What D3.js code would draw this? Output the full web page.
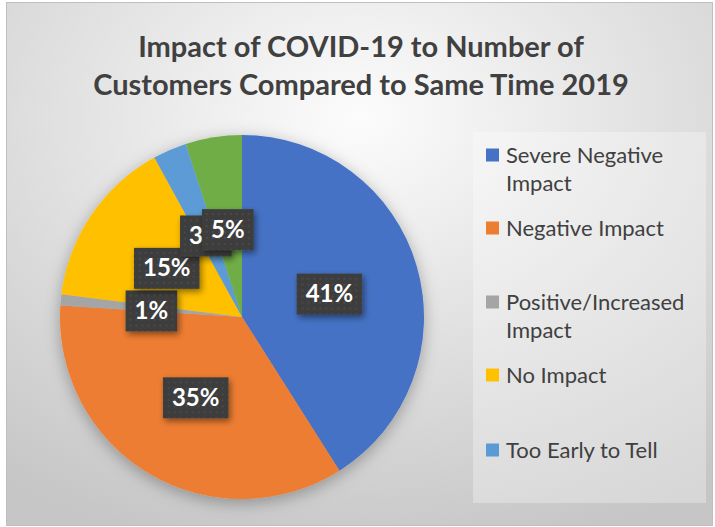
<!DOCTYPE html>
<html>
<head>
<meta charset="utf-8">
<script src="https://cdn.jsdelivr.net/npm/d3@7"></script>
<style>
  body { margin: 0; background: #fff; }
  svg { display: block; }
</style>
</head>
<body>
<script>
// chart data
var categories = ["Severe Negative Impact", "Negative Impact", "Positive/Increased Impact", "No Impact", "Too Early to Tell", "Other"];
var values = [41, 35, 1, 15, 3, 5];
var colors = ["#4472C4", "#ED7D31", "#A5A5A5", "#FFC000", "#5B9BD5", "#70AD47"];
var legendLines = [["Severe Negative", "Impact"], ["Negative Impact"], ["Positive/Increased", "Impact"], ["No Impact"], ["Too Early to Tell"]];
var titleLines = ["Impact of COVID-19 to Number of", "Customers Compared to Same Time 2019"];

var width = 715, height = 527;
var font = "Lato, 'Open Sans', sans-serif";

var svg = d3.select("body").append("svg")
  .attr("width", width)
  .attr("height", height);

var defs = svg.append("defs");

var bg = defs.append("radialGradient")
  .attr("id", "bgGrad")
  .attr("cx", "50%").attr("cy", "22%").attr("r", "85%");
bg.append("stop").attr("offset", "0%").attr("stop-color", "#fcfcfc");
bg.append("stop").attr("offset", "100%").attr("stop-color", "#c6c6c6");

var shadow = defs.append("filter").attr("id", "pieShadow")
  .attr("x", "-20%").attr("y", "-20%").attr("width", "140%").attr("height", "140%");
shadow.append("feDropShadow")
  .attr("dx", 0).attr("dy", 4).attr("stdDeviation", 8)
  .attr("flood-color", "#000").attr("flood-opacity", 0.3);

var boxShadow = defs.append("filter").attr("id", "boxShadow")
  .attr("x", "-30%").attr("y", "-30%").attr("width", "160%").attr("height", "160%");
boxShadow.append("feDropShadow")
  .attr("dx", 2).attr("dy", 3).attr("stdDeviation", 3)
  .attr("flood-color", "#000").attr("flood-opacity", 0.45);

var pat = defs.append("pattern").attr("id", "dots")
  .attr("width", 6).attr("height", 6).attr("patternUnits", "userSpaceOnUse");
pat.append("rect").attr("width", 6).attr("height", 6).attr("fill", "#3d3d3d");
pat.append("circle").attr("cx", 3).attr("cy", 3).attr("r", 1.1).attr("fill", "#4c4c4c");

// chart area
svg.append("rect")
  .attr("x", 6.5).attr("y", 2.5)
  .attr("width", 706).attr("height", 523)
  .attr("fill", "url(#bgGrad)")
  .attr("stroke", "#bfbfbf");

// title
svg.append("g").selectAll("text")
  .data(titleLines)
  .enter()
  .append("text")
  .attr("x", 361)
  .attr("y", function(d, i) { return 57 + i * 38; })
  .attr("text-anchor", "middle")
  .style("font-family", font)
  .style("font-weight", "bold")
  .style("font-size", "29px")
  .style("fill", "#404040")
  .text(function(d) { return d; });

// pie
var cx = 242, cy = 317, radius = 182;
var pie = d3.pie().sort(null).value(function(d) { return d; });
var arcs = pie(values);
var arc = d3.arc().innerRadius(0).outerRadius(radius);
var labelArc = d3.arc().innerRadius(radius * 0.5).outerRadius(radius * 0.5);

var pieG = svg.append("g").attr("transform", "translate(" + cx + "," + cy + ")");
pieG.append("g").attr("filter", "url(#pieShadow)")
  .selectAll("path")
  .data(arcs)
  .enter()
  .append("path")
  .attr("d", arc)
  .attr("fill", function(d, i) { return colors[i]; });

// data labels
var labels = pieG.selectAll(".lbl")
  .data(arcs)
  .enter()
  .append("g")
  .attr("class", "lbl")
  .attr("transform", function(d) {
    var c = labelArc.centroid(d);
    return "translate(" + c[0] + "," + (c[1] + 2) + ")";
  });

labels.each(function(d, i) {
  var g = d3.select(this);
  var rect = g.append("rect").attr("fill", "url(#dots)").attr("filter", "url(#boxShadow)");
  var t = g.append("text")
    .attr("text-anchor", "middle")
    .attr("dy", "0.36em")
    .style("font-family", font)
    .style("font-weight", "bold")
    .style("font-size", "24px")
    .style("fill", "#fff")
    .text(values[i] + "%");
  var w = t.node().getComputedTextLength() + 18;
  rect.attr("x", -w / 2).attr("y", -20).attr("width", w).attr("height", 41);
});

// legend
svg.append("rect")
  .attr("x", 473).attr("y", 132)
  .attr("width", 233).attr("height", 371)
  .attr("fill", "#ffffff").attr("fill-opacity", 0.3);

var legendY = [155, 228, 302, 375, 450];
var legend = svg.append("g").selectAll("g")
  .data(legendLines)
  .enter()
  .append("g")
  .attr("transform", function(d, i) { return "translate(486," + legendY[i] + ")"; });

legend.append("rect")
  .attr("x", 0).attr("y", -6.5)
  .attr("width", 13).attr("height", 13)
  .attr("fill", function(d, i) { return colors[i]; });

legend.each(function(d) {
  d3.select(this).selectAll("text")
    .data(d)
    .enter()
    .append("text")
    .attr("x", 20)
    .attr("y", function(s, j) { return j * 28; })
    .attr("dy", "0.35em")
    .style("font-family", font)
    .style("font-size", "22px")
    .style("fill", "#404040")
    .text(function(s) { return s; });
});
</script>
</body>
</html>
